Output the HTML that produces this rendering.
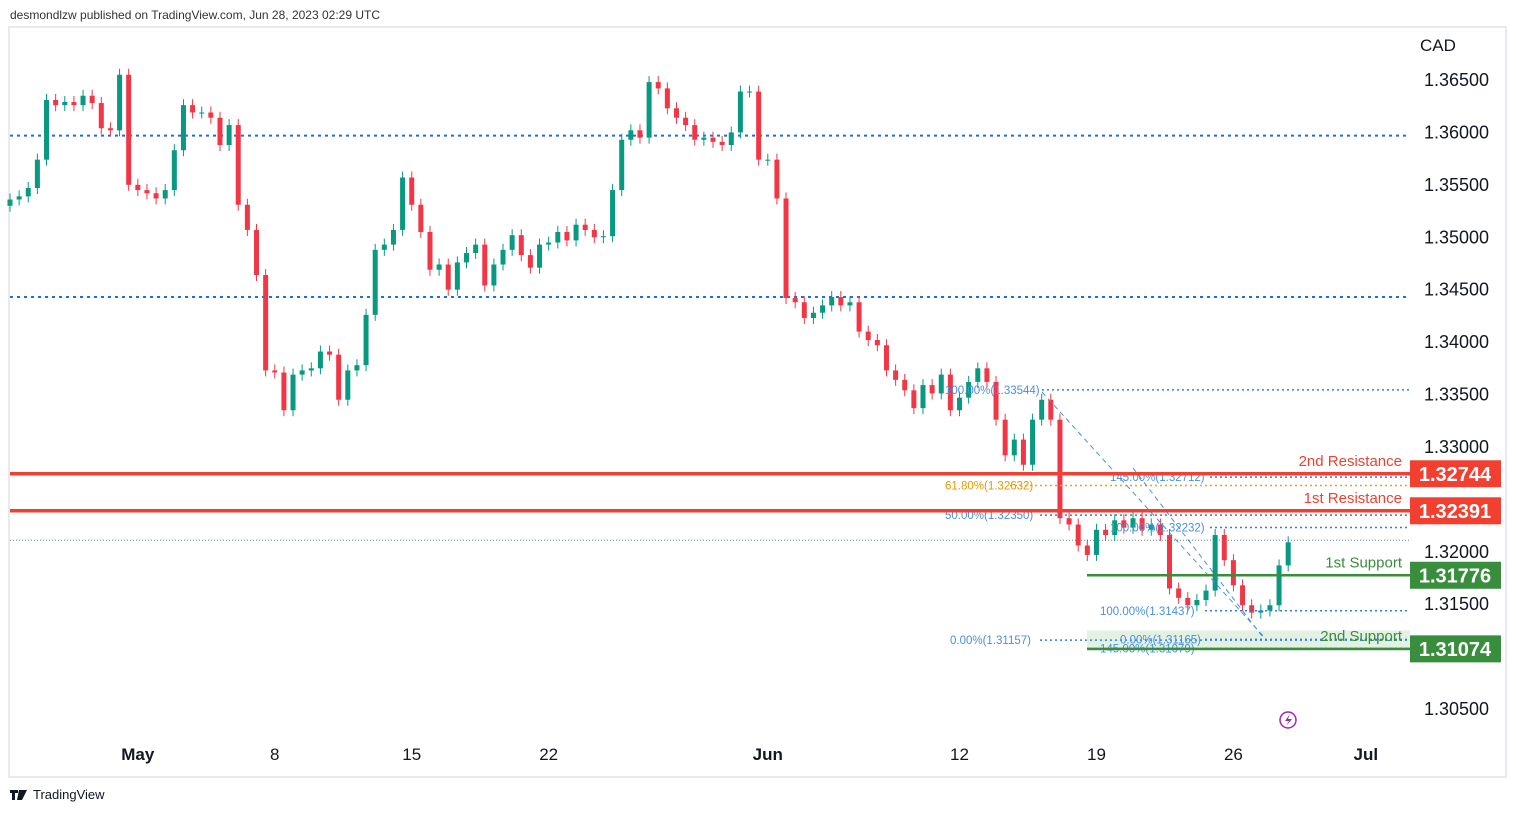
<!DOCTYPE html>
<html><head><meta charset="utf-8"><style>
html,body{margin:0;padding:0;background:#fff;}
body{width:1516px;height:812px;overflow:hidden;font-family:"Liberation Sans",sans-serif;}
svg text{font-family:"Liberation Sans",sans-serif;}
</style></head><body>
<svg id="chart" width="1516" height="812" viewBox="0 0 1516 812" xmlns="http://www.w3.org/2000/svg">
<text x="10" y="19" font-size="12" fill="#333">desmondlzw published on TradingView.com, Jun 28, 2023 02:29 UTC</text>
<rect x="9" y="27" width="1497" height="750" fill="none" stroke="#e9eaef" stroke-width="2"/>
<g id="zones"></g>
<g id="hlines"></g>
<g id="candles"></g>
<g id="overlay"></g>
<g id="yaxis"></g>
<g id="xaxis"></g>
<text x="1420" y="51" font-size="17" fill="#131722">CAD</text>
<g>
<circle cx="1288" cy="720" r="8" fill="none" stroke="#9c27b0" stroke-width="1.5"/>
<path d="M1290 714 L1285 721 L1289 721 L1286 726 L1292 719 L1288 719 Z" fill="#9c27b0"/>
</g>
<g>
<path d="M10 790 h8 v3 h-3 v7 h-3 v-7 h-2 Z M19 790 h3 l-2 10 h-3 Z M22 790 h5 l-5 10 h-2 Z" fill="#131722"/>
<text x="33" y="799" font-size="13" fill="#131722">TradingView</text>
</g>
</svg>
<script>
const closes = [1.3536,1.3539,1.3547,1.3574,1.3631,1.3626,1.3629,1.3626,1.3635,1.3628,1.3604,1.3602,1.3655,1.3550,1.3545,1.3542,1.3537,1.3545,1.3583,1.3626,1.3619,1.3619,1.3614,1.3588,1.3607,1.3531,1.3507,1.3464,1.3373,1.3371,1.3335,1.3369,1.3373,1.3375,1.3391,1.3388,1.3345,1.3373,1.3378,1.3426,1.3488,1.3493,1.3507,1.3557,1.3531,1.3505,1.3469,1.3474,1.3450,1.3476,1.3485,1.3493,1.3454,1.3474,1.3488,1.3502,1.3483,1.3471,1.3493,1.3495,1.3505,1.3497,1.3512,1.3507,1.3500,1.3501,1.3545,1.3593,1.3602,1.3595,1.3648,1.3642,1.3623,1.3614,1.3607,1.3593,1.3595,1.3591,1.3588,1.3600,1.3639,1.3639,1.3574,1.3574,1.3537,1.3442,1.3438,1.3423,1.3428,1.3435,1.3443,1.3435,1.3438,1.3410,1.3402,1.3397,1.3373,1.3364,1.3354,1.3337,1.3359,1.3351,1.3369,1.3335,1.3347,1.3362,1.3375,1.3362,1.3326,1.3292,1.3307,1.3283,1.3326,1.3345,1.3326,1.3232,1.3226,1.3206,1.3197,1.3221,1.3216,1.3230,1.3223,1.3232,1.3221,1.3226,1.3216,1.3165,1.3156,1.3149,1.3154,1.3163,1.3216,1.3192,1.3168,1.3149,1.3142,1.3144,1.3149,1.3187,1.3209];
const firstOpen = 1.3530;
const priceTicks = [1.365,1.360,1.355,1.350,1.345,1.340,1.335,1.330,1.320,1.315,1.305];
const timeLabels = ["May","8","15","22","Jun","12","19","26","Jul"];
const timeLabelBars = [14,29,44,59,83,104,119,134,148.5];
const timeLabelBold = [true,false,false,false,true,false,false,false,true];
const keyLevels = [1.32744,1.32391,1.31776,1.31074];
const keyNames = ["2nd Resistance","1st Resistance","1st Support","2nd Support"];
const fibLevels = [1.33544,1.32632,1.32350,1.31157,1.32712,1.32232,1.31437,1.31165,1.31079];
const fibLabels = ["100.00%(1.33544)","61.80%(1.32632)","50.00%(1.32350)","0.00%(1.31157)","145.00%(1.32712)","100.00%(1.32232)","100.00%(1.31437)","0.00%(1.31165)","145.00%(1.31079)"];
const blueLevels = [1.3597,1.3443];
const lastPrice = 1.3211;

const NS="http://www.w3.org/2000/svg";
function y(p){return 80+(1.365-p)/0.005*52.42;}
function x(i){return 10+i*9.13;}
function mk(tag,attrs,parent){const e=document.createElementNS(NS,tag);for(const k in attrs)e.setAttribute(k,attrs[k]);parent.appendChild(e);return e;}
const C=document.getElementById('candles');
for(let i=0;i<closes.length;i++){
  const o=i===0?firstOpen:closes[i-1], c=closes[i];
  const up=c>=o, col=up?'#089981':'#f23645';
  const top=y(Math.max(o,c)), bot=y(Math.min(o,c));
  const g=mk('g',{},C);
  
  
  mk('line',{x1:x(i),x2:x(i),y1:top-6,y2:bot+6,stroke:col,'stroke-width':1},g);
  mk('rect',{x:x(i)-2.5,y:top,width:5,height:Math.max(1,bot-top),fill:col},g);
}
const H=document.getElementById('hlines');
blueLevels.forEach(p=>{const l=mk('line',{x1:10,x2:1410,y1:y(p),y2:y(p),stroke:'#1e6fd9','stroke-width':2,'stroke-dasharray':'3 4'},H);

});
const lp=mk('line',{x1:10,x2:1410,y1:y(lastPrice),y2:y(lastPrice),stroke:'#5a8a7a','stroke-width':1,'stroke-dasharray':'1 2'},H);


const Z=document.getElementById('zones');
const zr=mk('rect',{x:1087,y:y(1.3125),width:323,height:y(1.31074)-y(1.3125)+2,fill:'#e3f1e3'},Z);


const O=document.getElementById('overlay');
const fibStart=[1042,1010,1040,1040,1210,1210,1205,1205,1205];
const fibLabelX=[945,945,945,950,1110,1110,1100,1120,1100];
fibLevels.forEach((p,i)=>{
  const col=i===1?'#f0a30a':'#2f7fe0';
  const l=mk('line',{x1:fibStart[i],x2:1410,y1:y(p),y2:y(p),stroke:col,'stroke-width':1.5,'stroke-dasharray':'2 3'},O);
  
  
  const t=mk('text',{x:fibLabelX[i],y:y(p)+4,'font-size':11.5,fill:i===1?'#e69a00':'#4a8fe0'},O);
  t.textContent=fibLabels[i];
  
  
});
const d1=mk('line',{x1:1042,y1:392,x2:1265,y2:638,stroke:'#4a8fe0','stroke-width':1,'stroke-dasharray':'5 4'},O);


const d2=mk('line',{x1:1133,y1:468,x2:1262,y2:636,stroke:'#4a8fe0','stroke-width':1,'stroke-dasharray':'5 4'},O);


keyLevels.forEach((p,i)=>{
  const res=i<2, col=res?'#f23f2f':'#388e3c';
  const l=mk('line',{x1:res?10:1087,x2:1410,y1:y(p),y2:y(p),stroke:col,'stroke-width':res?3.5:2.5},O);
  
  
  const n=mk('text',{x:1402,y:y(p)-8,'font-size':15,'text-anchor':'end',fill:col},O);
  n.textContent=keyNames[i];
  
  
});
const Y=document.getElementById('yaxis');
priceTicks.forEach(p=>{const t=mk('text',{x:1424,y:y(p)+6,'font-size':18,fill:'#131722'},Y);t.textContent=p.toFixed(5);

});
keyLevels.forEach((p,i)=>{
  const col=i<2?'#f23f2f':'#388e3c';
  const g=mk('g',{},Y);
  
  
  mk('rect',{x:1410,y:y(p)-13.5,width:91,height:27,fill:col},g);
  const t=mk('text',{x:1455,y:y(p)+7,'font-size':20,'font-weight':'bold','text-anchor':'middle',fill:'#fff'},g);
  t.textContent=p.toFixed(5);
});
const X=document.getElementById('xaxis');
timeLabels.forEach((s,i)=>{const t=mk('text',{x:x(timeLabelBars[i]),y:760,'font-size':17,'text-anchor':'middle',fill:'#131722','font-weight':timeLabelBold[i]?'bold':'normal'},X);t.textContent=s;

});
</script>
</body></html>
